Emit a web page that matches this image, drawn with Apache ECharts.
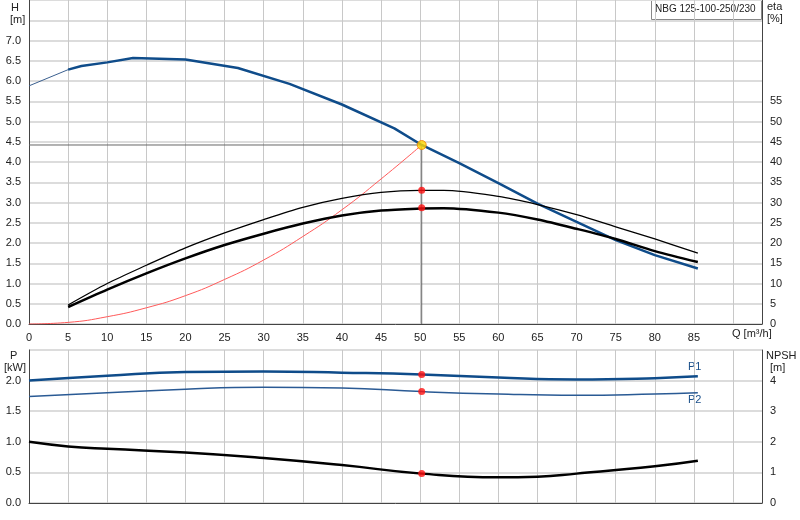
<!DOCTYPE html><html><head><meta charset="utf-8"><script src="https://cdn.jsdelivr.net/npm/echarts@6/dist/echarts.min.js"></script></head><body style="margin:0"><div id="c" style="width:800px;height:520px"></div><script>
const hThin=[[0,5.88],[5,6.28]];
const hCurve=[[5,6.28],[6.7,6.37],[10,6.46],[13.3,6.57],[20,6.53],[26.7,6.32],[33.3,5.93],[40,5.42],[46.7,4.83],[50.2,4.42],[55,3.97],[60,3.48],[65,2.97],[70,2.52],[75,2.07],[80,1.7],[85.5,1.37]];
const eta1=[[5,4.7],[10,10],[15,14.5],[20,18.8],[25,22.5],[30,25.8],[35,28.8],[40,31],[45,32.5],[50,33],[53,33],[60,31.5],[65,29.5],[70,27],[75,24],[80,21],[85.5,17.5]];
const eta2=[[5,4.2],[10,8.5],[15,12.5],[20,16.2],[25,19.5],[30,22.3],[35,24.8],[40,26.8],[45,28],[50,28.5],[53,28.6],[60,27.5],[65,25.8],[70,23.5],[75,21],[80,18],[85.5,15.3]];
const sys=[[0,0],[5,0.04],[10,0.18],[15,0.4],[20,0.7],[25,1.1],[30,1.58],[35,2.16],[40,2.82],[45,3.58],[50.2,4.42]];
const duty={q:50.2,h:4.42,eta1:33,eta2:28.7,p1:2.10,p2:1.82,npsh:0.96};
const p1=[[0,2.0],[10,2.08],[20,2.14],[30,2.15],[40,2.13],[50.2,2.10],[60,2.05],[70,2.02],[80,2.04],[85.5,2.07]];
const p2=[[0,1.74],[10,1.80],[20,1.86],[30,1.89],[40,1.88],[50.2,1.82],[60,1.78],[70,1.76],[80,1.78],[85.5,1.80]];
const npsh=[[0,2.0],[5,1.85],[10,1.77],[20,1.65],[30,1.47],[40,1.24],[50.2,0.96],[60,0.84],[65,0.86],[70,0.96],[80,1.2],[85.5,1.38]];
const F='Liberation Sans, Arial, sans-serif';
const lab={color:'#222',fontSize:11,fontFamily:F};
const vgrid={show:true,lineStyle:{color:'#c8c8c8',width:1}};
const hgrid={show:true,lineStyle:{color:'#dcdcdc',width:2}};
const axl={show:true,lineStyle:{color:'#444'}};
const ch=echarts.init(document.getElementById('c'));
ch.setOption({animation:false,
grid:[{left:29,right:38,top:0,height:324},{left:29,right:38,top:350,height:153}],
xAxis:[{gridIndex:0,type:'value',min:0,max:93.7,interval:5,axisLine:axl,axisTick:{show:false},splitLine:vgrid,axisLabel:Object.assign({},lab,{showMaxLabel:false,formatter:v=>v>=90?'':v})},
{gridIndex:1,type:'value',min:0,max:93.7,interval:5,axisLine:axl,axisTick:{show:false},splitLine:vgrid,axisLabel:{show:false}}],
yAxis:[{gridIndex:0,type:'value',min:0,max:8,interval:0.5,axisLine:axl,axisTick:{show:false},splitLine:hgrid,axisLabel:Object.assign({},lab,{formatter:v=>v>7?'':v.toFixed(1)})},
{gridIndex:0,type:'value',position:'right',min:0,max:80,interval:5,axisLine:axl,axisTick:{show:false},splitLine:{show:false},axisLabel:Object.assign({},lab,{formatter:v=>v>55?'':v})},
{gridIndex:1,type:'value',min:0,max:2.5,interval:0.5,axisLine:axl,axisTick:{show:false},splitLine:hgrid,axisLabel:Object.assign({},lab,{formatter:v=>v>2?'':v.toFixed(1)})},
{gridIndex:1,type:'value',position:'right',min:0,max:5,interval:1,axisLine:axl,axisTick:{show:false},splitLine:{show:false},axisLabel:Object.assign({},lab,{formatter:v=>v>4?'':v})}],
series:[
{type:'line',data:[[0,duty.h],[duty.q,duty.h],[duty.q,0]],symbol:'none',lineStyle:{color:'#666',width:1},z:1},
{type:'line',data:sys,smooth:true,symbol:'none',lineStyle:{color:'#ff5a5a',width:1}},
{type:'line',data:hThin,symbol:'none',lineStyle:{color:'#3a5f8f',width:1}},
{type:'line',data:hCurve,symbol:'none',lineStyle:{color:'#0f4c8a',width:2.5}},
{type:'line',yAxisIndex:1,data:eta1,smooth:0.3,symbol:'none',lineStyle:{color:'#000',width:1.3}},
{type:'line',yAxisIndex:1,data:eta2,smooth:0.3,symbol:'none',lineStyle:{color:'#000',width:2.5}},
{type:'scatter',yAxisIndex:1,data:[[duty.q,duty.eta1],[duty.q,duty.eta2]],symbolSize:7,itemStyle:{color:'#ff1010'},z:5},
{type:'scatter',data:[[duty.q,duty.h]],symbolSize:9,itemStyle:{color:'#ffd800',borderColor:'#f08000',borderWidth:1},z:6},
{type:'line',xAxisIndex:1,yAxisIndex:2,data:p1,smooth:true,symbol:'none',lineStyle:{color:'#0f4c8a',width:2.5}},
{type:'line',xAxisIndex:1,yAxisIndex:2,data:p2,smooth:true,symbol:'none',lineStyle:{color:'#2a5a94',width:1.5}},
{type:'line',xAxisIndex:1,yAxisIndex:3,data:npsh,smooth:true,symbol:'none',lineStyle:{color:'#000',width:2.5}},
{type:'scatter',xAxisIndex:1,yAxisIndex:2,data:[[duty.q,duty.p1],[duty.q,duty.p2]],symbolSize:7,itemStyle:{color:'#ff1010'},z:5},
{type:'scatter',xAxisIndex:1,yAxisIndex:3,data:[[duty.q,duty.npsh]],symbolSize:7,itemStyle:{color:'#ff1010'},z:5}
],
graphic:[
{type:'text',left:11,top:2,style:{text:'H',font:'11px '+F,fill:'#222'}},
{type:'text',left:10,top:14,style:{text:'[m]',font:'11px '+F,fill:'#222'}},
{type:'text',left:767,top:1,style:{text:'eta',font:'11px '+F,fill:'#222'}},
{type:'text',left:767,top:13,style:{text:'[%]',font:'11px '+F,fill:'#222'}},
{type:'text',left:732,top:328,style:{text:'Q [m³/h]',font:'11px '+F,fill:'#222'}},
{type:'rect',shape:{x:651.5,y:0.5,width:110,height:19},style:{fill:'#fff',stroke:'#888'}},
{type:'text',left:655,top:4,style:{text:'NBG 125-100-250/230',font:'10px '+F,fill:'#222'}},
{type:'text',left:10,top:350,style:{text:'P',font:'11px '+F,fill:'#222'}},
{type:'text',left:4,top:362,style:{text:'[kW]',font:'11px '+F,fill:'#222'}},
{type:'text',left:766,top:350,style:{text:'NPSH',font:'11px '+F,fill:'#222'}},
{type:'text',left:770,top:362,style:{text:'[m]',font:'11px '+F,fill:'#222'}},
{type:'text',left:688,top:361,style:{text:'P1',font:'11px '+F,fill:'#1a4f8a'}},
{type:'text',left:688,top:394,style:{text:'P2',font:'11px '+F,fill:'#1a4f8a'}}
]});
</script></body></html>
